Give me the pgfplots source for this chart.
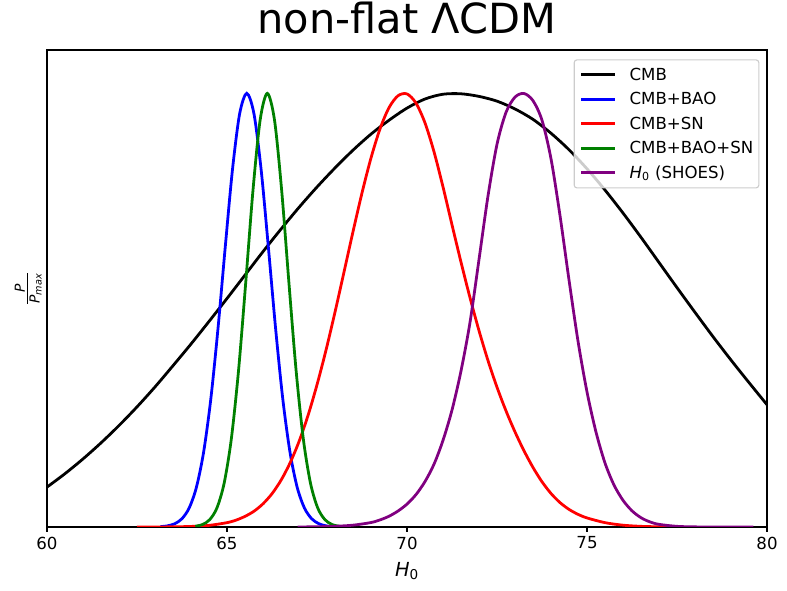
\documentclass[border=0pt]{standalone}
\usepackage{amsmath}
\usepackage{fontspec}
\setmainfont{DejaVu Sans}
\usepackage{pgfplots}
\usepackage{pgfplotstable}
\pgfplotsset{compat=1.18}
\definecolor{mplgreen}{rgb}{0,0.5,0}
\definecolor{mplpurple}{rgb}{0.5,0,0.5}
\pgfplotstableread{
x y
60.0 0.092
60.5 0.123
61.0 0.157
61.5 0.194
62.0 0.234
62.5 0.277
63.0 0.323
63.5 0.372
64.0 0.422
64.5 0.474
65.0 0.527
65.5 0.581
66.0 0.635
66.5 0.687
67.0 0.737
67.5 0.784
68.0 0.828
68.5 0.869
69.0 0.906
69.5 0.938
70.0 0.966
70.5 0.987
71.0 0.998
71.5 0.999
72.0 0.993
72.5 0.982
73.0 0.964
73.5 0.940
74.0 0.908
74.5 0.870
75.0 0.826
75.5 0.777
76.0 0.724
76.5 0.668
77.0 0.610
77.5 0.552
78.0 0.495
78.5 0.439
79.0 0.385
79.5 0.333
80.0 0.282
}\cmb
\pgfplotstableread{
x y
63.15 0.0009
63.35 0.0027
63.55 0.0076
63.75 0.0192
63.95 0.0439
64.15 0.0914
64.35 0.1724
64.55 0.2950
64.75 0.4579
64.95 0.6444
65.15 0.8226
65.35 0.9524
65.55 1.0000
65.75 0.9524
65.95 0.8226
66.15 0.6444
66.35 0.4579
66.55 0.2950
66.75 0.1724
66.95 0.0914
67.15 0.0439
67.35 0.0192
67.55 0.0076
67.75 0.0027
67.95 0.0009
}\cmbbao
\pgfplotstableread{
x y
62.50 0.0000
63.00 0.0001
63.50 0.0004
64.00 0.0013
64.50 0.0037
65.00 0.0100
65.25 0.0158
65.50 0.0245
65.75 0.0364
66.00 0.0535
66.25 0.0768
66.50 0.1077
66.75 0.1475
67.00 0.1970
67.25 0.2571
67.50 0.3280
67.75 0.4078
68.00 0.4955
68.25 0.5879
68.50 0.6810
68.75 0.7704
69.00 0.8510
69.25 0.9180
69.50 0.9670
69.75 0.9945
70.00 0.9987
70.25 0.9774
70.50 0.9318
70.75 0.8653
71.00 0.7843
71.25 0.6968
71.50 0.6108
71.75 0.5288
72.00 0.4528
72.25 0.3838
72.50 0.3223
72.75 0.2678
73.00 0.2193
73.25 0.1758
73.50 0.1373
73.75 0.1043
74.00 0.0773
74.25 0.0563
74.50 0.0406
74.75 0.0292
75.00 0.0209
75.50 0.0100
76.00 0.0042
76.50 0.0015
77.00 0.0005
77.60 0.0000
}\cmbsn
\pgfplotstableread{
x y
64.12 0.0017
64.32 0.0057
64.52 0.0169
64.72 0.0439
64.92 0.1007
65.12 0.2030
65.32 0.3604
65.52 0.5633
65.72 0.7748
65.92 0.9382
66.12 1.0000
66.32 0.9382
66.52 0.7748
66.72 0.5633
66.92 0.3604
67.12 0.2030
67.32 0.1007
67.52 0.0439
67.72 0.0169
67.92 0.0057
68.12 0.0017
}\cmbbaosn
\pgfplotstableread{
x y
66.96 0.0000
67.50 0.0006
68.00 0.0017
68.50 0.0042
69.00 0.0103
69.25 0.0163
69.50 0.0248
69.75 0.0368
70.00 0.0528
70.25 0.0748
70.50 0.1048
70.75 0.1448
71.00 0.1998
71.25 0.2698
71.50 0.3598
71.75 0.4718
72.00 0.6168
72.25 0.7634
72.50 0.8825
72.75 0.9561
73.00 0.9913
73.25 0.9997
73.50 0.9831
73.75 0.9379
74.00 0.8492
74.25 0.7182
74.50 0.5698
74.75 0.4288
75.00 0.3115
75.25 0.2189
75.50 0.1475
75.75 0.0968
76.00 0.0616
76.25 0.0373
76.50 0.0214
76.75 0.0117
77.00 0.0061
77.50 0.0015
78.00 0.0003
78.50 0.0001
79.62 0.0000
}\shoes
\begin{document}
\begin{tikzpicture}
\useasboundingbox (0,0) rectangle (566.64bp,425.52bp);
\begin{axis}[
  at={(33.84bp,46.08bp)}, anchor=south west,
  scale only axis, width=518.4bp, height=343.44bp,
  xmin=60, xmax=80, ymin=0, ymax=1.1,
  xtick={60,65,70,75,80}, ytick=\empty,
  xtick pos=left, tick align=outside, major tick length=3.5bp,
  every tick/.style={black, line width=0.8bp},
  axis line style={line width=0.8bp},
  /pgf/number format/assume math mode=true,
  xticklabel style={font=\fontsize{12}{14}\selectfont},
  title={non-flat ΛCDM},
  every axis title/.style={at={(0.5,1)}, anchor=base, yshift=12bp, font=\fontsize{30}{36}\selectfont},
  xlabel={\textit{H}\textsubscript{0}},
  every axis x label/.style={at={(axis description cs:0.5,0)}, anchor=base, yshift=-35.3bp, font=\fontsize{14}{17}\selectfont},
  ylabel={$\frac{\text{\fontsize{10}{12}\selectfont\itshape P}}{\text{\fontsize{10}{12}\selectfont\itshape P}_{\text{\fontsize{7}{8}\selectfont\itshape max}}}$},
  every axis y label/.style={at={(axis description cs:0,0.5)}, xshift=-13.5bp, rotate=90, anchor=center, font=\fontsize{14}{17}\selectfont},
  legend cell align=left,
  legend image code/.code={\draw[#1] (0bp,0bp) -- (24.5bp,0bp);},
  legend style={at={(axis description cs:1,1)}, anchor=north east, xshift=-5.5bp, yshift=-6.7bp,
    draw=black!20, line width=0.8bp, rounded corners=2bp, fill=white, fill opacity=0.8, text opacity=1,
    font=\fontsize{12}{14}\selectfont, inner xsep=4bp, inner ysep=2bp, row sep=0bp,
    nodes={inner xsep=0bp, inner ysep=0bp, text height=12.6bp, text depth=5.04bp},
    /tikz/every odd column/.style={column sep=9.4bp}},
]
\addplot[black, line width=2bp, smooth] table {\cmb};
\addlegendentry{CMB}
\addplot[blue, line width=2bp, smooth] table {\cmbbao};
\addlegendentry{CMB+BAO}
\addplot[red, line width=2bp, smooth] table {\cmbsn};
\addlegendentry{CMB+SN}
\addplot[mplgreen, line width=2bp, smooth] table {\cmbbaosn};
\addlegendentry{CMB+BAO+SN}
\addplot[mplpurple, line width=2bp, smooth] table {\shoes};
\addlegendentry{\textit{H}\textsubscript{0} (SHOES)}
\end{axis}
\end{tikzpicture}
\end{document}
